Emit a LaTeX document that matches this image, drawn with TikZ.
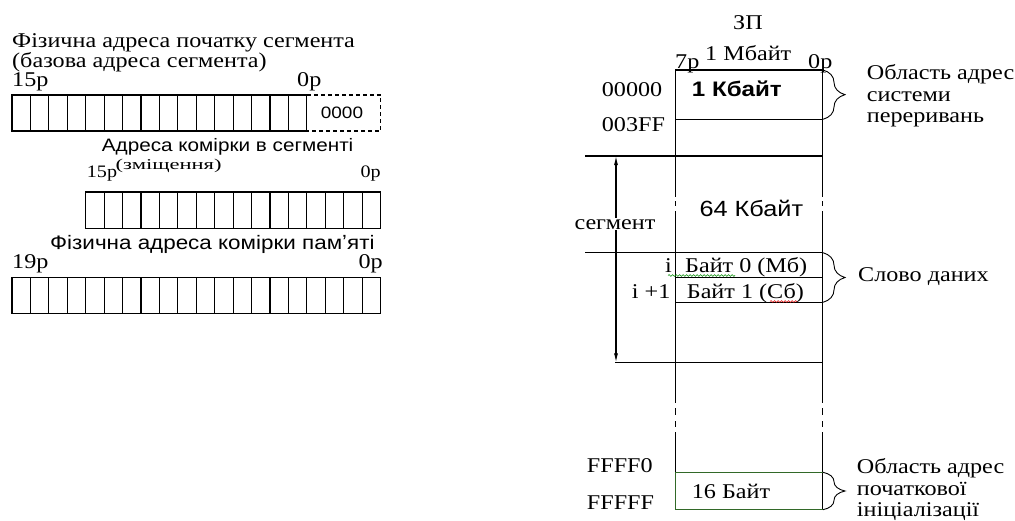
\documentclass[tikz,border=0pt]{standalone}
\usepackage{fontspec}
\setmainfont{Liberation Serif}[FakeStretch=1.15]
\setsansfont{Liberation Sans}[FakeStretch=1.15]
\newfontfamily\serifwide{Liberation Serif}[FakeStretch=1.5]
\usetikzlibrary{arrows.meta,decorations.pathreplacing,decorations.pathmorphing}
\definecolor{boxgreen}{RGB}{50,105,40}
\tikzset{
  lbl/.style={inner sep=0pt, anchor=base west, font=\fontsize{21}{23}\selectfont},
  lblr/.style={inner sep=0pt, anchor=base east, font=\fontsize{21}{23}\selectfont},
  slbl/.style={inner sep=0pt, anchor=base west, font=\sffamily\fontsize{19.5}{22}\selectfont},
  cell/.style={line width=1.1pt},
  mem/.style={line width=1.1pt},
  brc/.style={decorate, decoration={brace, amplitude=22pt}, line width=0.9pt},
  dimarrow/.style={line width=1.1pt, {Latex[length=9pt,width=4pt]}-{Latex[length=9pt,width=4pt]}},
  squig/.style={decorate, decoration={snake, amplitude=0.9pt, segment length=3.5pt}, line width=0.6pt}
}
\begin{document}
\begin{tikzpicture}[x=1pt,y=-1pt]
\useasboundingbox (0,0) rectangle (1015,520);
% ---------- left part ----------
\node[lbl] (t1) at (12,47) {Фізична адреса початку сегмента};
\node[lbl] (t2) at (12,67) {(базова адреса сегмента)};
\node[lbl] (r1a) at (12,86) {15р};
\node[lbl] (r1b) at (297,86) {0р};
\foreach \i in {0,...,15} \draw[cell] ({12+\i*18.43},95) rectangle ++(18.43,36);
\draw[cell, dashed, dash pattern=on 4pt off 3pt] (306.9,95) -- (380.7,95) -- (380.7,131) -- (306.9,131);
\node[inner sep=0pt, font=\sffamily\fontsize{16.5}{18}\selectfont] (z4) at (342,113) {0000};

\node[slbl, font=\sffamily\fontsize{18}{20}\selectfont] (t3) at (101.7,151.5) {Адреса комірки в сегменті};
\node[lbl, font=\fontsize{17.5}{19}\selectfont] (r2a) at (86.7,177) {15р};
\node[inner sep=0pt, anchor=base west, font=\serifwide\fontsize{15}{16}\selectfont] (zm) at (115.5,169) {(зміщення)};
\node[lblr, font=\fontsize{17.5}{19}\selectfont] (r2b) at (381,177) {0р};
\foreach \i in {0,...,15} \draw[cell] ({85.7+\i*18.43},192) rectangle ++(18.43,36.3);

\node[slbl] (t4) at (50,249) {Фізична адреса комірки памʼяті};
\node[lbl] (r3a) at (12,268.5) {19р};
\node[lblr] (r3b) at (383,268.5) {0р};
\foreach \i in {0,...,19} \draw[cell] ({12+\i*18.43},277.3) rectangle ++(18.43,36);

% ---------- right part ----------
\node[lbl] (zp) at (733,29.3) {ЗП};
\node[lbl] (mb) at (705,60) {1 Мбайт};
\node[lbl] (b7) at (675,68.5) {7р};
\node[lbl] (b0) at (808,68.5) {0р};

% memory verticals with breaks
\draw[mem] (675.3,70) -- (675.3,197);
\draw[mem] (675.3,201) -- (675.3,206);
\draw[mem] (675.3,211) -- (675.3,403);
\draw[mem] (675.3,408) -- (675.3,415);
\draw[mem] (675.3,421) -- (675.3,427);
\draw[mem] (675.3,432) -- (675.3,472.3);
\draw[mem] (822.7,70) -- (822.7,197);
\draw[mem] (822.7,201) -- (822.7,206);
\draw[mem] (822.7,211) -- (822.7,403);
\draw[mem] (822.7,408) -- (822.7,415);
\draw[mem] (822.7,421) -- (822.7,427);
\draw[mem] (822.7,432) -- (822.7,509.7);

\draw[mem] (675.3,70) -- (822.7,70);
\draw[mem] (675.3,119.3) -- (822.7,119.3);
\draw[mem] (585,156) -- (822.7,156);
\draw[mem] (585,252.7) -- (822.7,252.7);
\draw[mem] (675.3,277.7) -- (822.7,277.7);
\draw[mem] (675.3,302.3) -- (822.7,302.3);
\draw[mem] (615,362.3) -- (822.7,362.3);
\draw[mem, boxgreen] (822.7,472.3) -- (675.3,472.3) -- (675.3,509.7) -- (822.7,509.7);

\coordinate (segtop) at (616,156);
\coordinate (segbot) at (616,362.3);
\draw[dimarrow] (segtop) -- (segbot);
\node[lbl, fill=white, inner sep=1pt] (seg) at (573.3,229) {сегмент};

\node[lbl] (a0) at (601.7,96.7) {00000};
\node[lbl] (a1) at (601.7,131.7) {003FF};
\node[inner sep=0pt, anchor=base west, font=\sffamily\bfseries\fontsize{21}{23}\selectfont] (kb1) at (691.7,96.7) {1 Кбайт};
\node[inner sep=0pt, anchor=base west, font=\sffamily\fontsize{22}{24}\selectfont] (kb64) at (699.3,216.7) {64 Кбайт};

\node[lbl] (ii) at (665,272.7) {i};
\node[lbl] (by0) at (685,272.7) {Байт 0 (Мб)};
\node[lbl] (ii1) at (631.7,298.3) {i +1};
\node[lbl] (by1) at (686.7,298.3) {Байт 1 (Сб)};
\draw[squig, green!55!black] (668,275.5) -- (735,275.5);
\draw[squig, red!85!black] (770,301.5) -- (797,301.5);

\node[lbl] (f0) at (586.7,472.7) {FFFF0};
\node[lbl] (ff) at (586.7,509) {FFFFF};
\node[lbl] (b16) at (691.7,498.3) {16 Байт};

% braces
\draw[brc] (823,70) -- (823,119.3);
\draw[brc] (823,252.7) -- (823,302.3);
\draw[brc] (823,472.3) -- (823,509.7);

\node[lbl] (o1) at (866.7,79.5) {Область адрес};
\node[lbl] (o2) at (866.7,101) {системи};
\node[lbl] (o3) at (866.7,122.5) {переривань};
\node[lbl] (sd) at (858,281) {Слово даних};
\node[lbl] (p1) at (856.7,473) {Область адрес};
\node[lbl] (p2) at (856.7,495.5) {початкової};
\node[lbl] (p3) at (856.7,516) {ініціалізації};
\end{tikzpicture}
\end{document}
